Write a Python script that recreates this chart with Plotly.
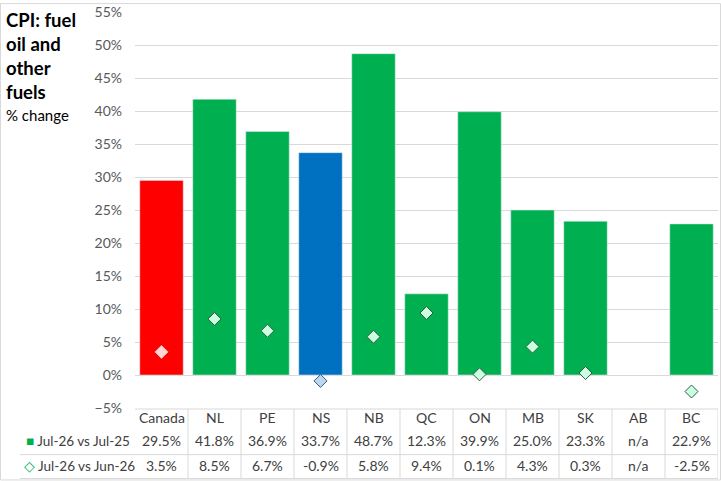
import plotly.graph_objects as go

# Data
regions = ['Canada', 'NL', 'PE', 'NS', 'NB', 'QC', 'ON', 'MB', 'SK', 'AB', 'BC']
yoy = [29.5, 41.8, 36.9, 33.7, 48.7, 12.3, 39.9, 25.0, 23.3, None, 22.9]   # Jul-26 vs Jul-25
mom = [3.5, 8.5, 6.7, -0.9, 5.8, 9.4, 0.1, 4.3, 0.3, None, -2.5]          # Jul-26 vs Jun-26
yoy_name = 'Jul-26 vs Jul-25'
mom_name = 'Jul-26 vs Jun-26'

GREEN, RED, BLUE = '#00B050', '#FF0000', '#0070C0'
bar_col = [RED if r == 'Canada' else BLUE if r == 'NS' else GREEN for r in regions]
pt_fill = ['#FFD6D6' if r == 'Canada' else '#BDD7EE' if r == 'NS' else '#CCFFE2' for r in regions]
pt_line = ['#F4B6B6' if r == 'Canada' else '#3B5E80' if r == 'NS' else '#2F5D3F' for r in regions]

W, H = 721, 481
L, R, T, B = 135, 3, 9, 73
ph = H - T - B
pw = W - L - R


def py(px):  # pixel row -> paper y
    return (H - B - px) / ph


def px_(x):  # pixel column -> paper x
    return (x - L) / pw


fnt = 'Lato'
fig = go.Figure()
fig.add_trace(go.Bar(x=regions, y=yoy, marker_color=bar_col, width=0.82, name=yoy_name))
fig.add_trace(go.Scatter(x=regions, y=mom, mode='markers', name=mom_name,
                         marker=dict(symbol='diamond', size=10, color=pt_fill,
                                     line=dict(color=pt_line, width=1))))

fig.update_yaxes(range=[-5, 55.02], tick0=0, dtick=5, ticksuffix='%', showgrid=True,
                 gridcolor='#D9D9D9', gridwidth=1, zeroline=True, zerolinecolor='#D9D9D9',
                 zerolinewidth=1, tickfont=dict(size=14, color='#595959', family=fnt),
                 ticklabelstandoff=12)
fig.update_xaxes(showticklabels=False, showgrid=False, range=[-0.5, 10.5])

# data table under the chart
ann = []
for r, a, b in zip(regions, yoy, mom):
    ann.append(dict(x=r, y=py(418), text=r))
    ann.append(dict(x=r, y=py(441), text='n/a' if a is None else f'{a:.1f}%'))
    ann.append(dict(x=r, y=py(466), text='n/a' if b is None else f'{b:.1f}%'))
for a in ann:
    a.update(xref='x', yref='paper', showarrow=False, yanchor='middle',
             font=dict(size=14, color='#404040', family=fnt))
ann.append(dict(x=px_(24), y=py(441), xref='paper', yref='paper', showarrow=False,
                xanchor='left', yanchor='middle',
                text=f'<span style="color:{GREEN}">■</span> {yoy_name}',
                font=dict(size=13.5, color='#404040', family=fnt)))
ann.append(dict(x=px_(22), y=py(466), xref='paper', yref='paper', showarrow=False,
                xanchor='left', yanchor='middle',
                text=f'<span style="color:{GREEN}">◇</span> {mom_name}',
                font=dict(size=13.5, color='#404040', family=fnt)))
# title
ann.append(dict(x=px_(4), y=py(4), xref='paper', yref='paper', showarrow=False,
                xanchor='left', yanchor='top', align='left',
                text='<b>CPI: fuel<br>oil and<br>other<br>fuels</b>',
                font=dict(size=18.5, color='#000000', family=fnt)))
ann.append(dict(x=px_(4), y=py(113), xref='paper', yref='paper', showarrow=False,
                xanchor='left', yanchor='middle', text='% change',
                font=dict(size=15, color='#000000', family=fnt)))

line = dict(color='#D9D9D9', width=1)
shapes = [
    dict(type='line', xref='paper', yref='paper', x0=0, x1=1, y0=py(409), y1=py(409), line=line),
    dict(type='line', xref='paper', yref='paper', x0=px_(20), x1=1, y0=py(455), y1=py(455), line=line),
    dict(type='line', xref='paper', yref='paper', x0=px_(20), x1=1, y0=py(479), y1=py(479), line=line),
    # chart border
    dict(type='rect', xref='paper', yref='paper', x0=px_(0.5), x1=px_(W - 0.5),
         y0=py(H - 0.5), y1=py(0.5), line=line),
]
for i in range(len(regions)):
    shapes.append(dict(type='line', xref='x', yref='paper', x0=i + 0.5, x1=i + 0.5,
                       y0=py(409), y1=py(479), line=line))

fig.update_layout(width=W, height=H, margin=dict(l=L, r=R, t=T, b=B), showlegend=False,
                  plot_bgcolor='white', paper_bgcolor='white', bargap=0.18,
                  annotations=ann, shapes=shapes, font=dict(family=fnt))
fig.write_html('out.html', config={'displayModeBar': False},
               post_script="document.body.style.margin='0';")
